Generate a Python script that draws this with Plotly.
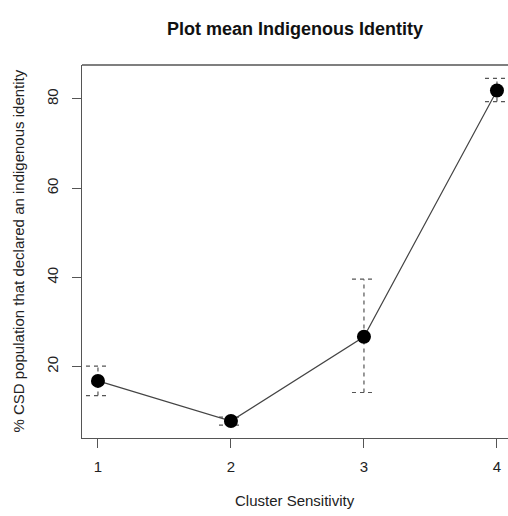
import plotly.graph_objects as go

clusters = [1, 2, 3, 4]
means = [16.8, 7.8, 26.7, 81.9]
upper = [20.1, 8.7, 39.6, 84.6]
lower = [13.5, 6.9, 14.2, 79.4]
x_ticks = [1, 2, 3, 4]
y_ticks = [20, 40, 60, 80]

title = "Plot mean Indigenous Identity"
x_title = "Cluster Sensitivity"
y_title = "% CSD population that declared an indigenous identity"

FONT = "Liberation Sans, Arial, sans-serif"
cap = 0.09

fig = go.Figure()

# dashed error bars (R arrows with lty=2)
ex, ey = [], []
for x, lo, hi in zip(clusters, lower, upper):
    ex += [x, x, None, x - cap, x + cap, None, x - cap, x + cap, None]
    ey += [lo, hi, None, hi, hi, None, lo, lo, None]
fig.add_trace(go.Scatter(x=ex, y=ey, mode="lines",
                         line=dict(color="#555555", width=1.2, dash="4px,4px"),
                         hoverinfo="skip", showlegend=False))

fig.add_trace(go.Scatter(x=clusters, y=means, mode="lines+markers",
                         line=dict(color="#444444", width=1.2),
                         marker=dict(color="black", size=14),
                         showlegend=False))

fig.update_layout(
    width=508, height=516,
    margin=dict(l=82, r=0, t=65, b=78),
    paper_bgcolor="white", plot_bgcolor="white",
    font=dict(family=FONT, size=15, color="#222222"),
    title=dict(text="<b>" + title + "</b>", x=0.5, xref="paper",
               y=1 - 29 / 516, yref="container", yanchor="middle",
               font=dict(size=18, color="#111111")),
    xaxis=dict(range=[0.88, 4.083], tickvals=x_ticks, ticktext=[str(v) for v in x_ticks],
               showgrid=False, zeroline=False, showline=True, linecolor="#555555", linewidth=1.3,
               ticks="outside", ticklen=9, tickcolor="#555555", tickwidth=1.2,
               ticklabelstandoff=6,
               tickfont=dict(size=15, color="#222222")),
    yaxis=dict(range=[4.0, 87.6], tickvals=y_ticks, ticktext=[str(v) for v in y_ticks],
               showgrid=False, zeroline=False, showline=True, linecolor="#555555", linewidth=1.3,
               ticks="outside", ticklen=9, tickcolor="#555555", tickwidth=1.2, tickangle=-90,
               ticklabelstandoff=8,
               tickfont=dict(size=15, color="#222222")),
    shapes=[dict(type="line", xref="paper", yref="paper", x0=0, x1=1.05, y0=1, y1=1,
                 line=dict(color="#555555", width=1.3))],
    annotations=[
        dict(text=y_title, xref="paper", yref="paper", x=0, y=0.5, xanchor="center",
             yanchor="middle", xshift=-64, textangle=-90, showarrow=False,
             font=dict(size=15, color="#222222")),
        dict(text=x_title, xref="paper", yref="paper", x=0.5, y=0, xanchor="center",
             yanchor="middle", yshift=-62, showarrow=False,
             font=dict(size=15, color="#222222")),
    ],
)

fig.write_html("out.html")
